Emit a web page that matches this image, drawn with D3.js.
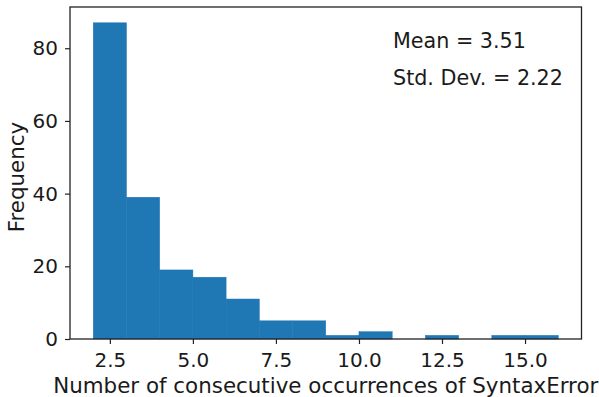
<!DOCTYPE html>
<html><head><meta charset="utf-8">
<script src="https://cdn.jsdelivr.net/npm/d3@7"></script>
<style>
body{margin:0;background:#fff;}
svg{display:block;}
text{font-family:"DejaVu Sans",sans-serif;fill:#1a1a1a;}
</style></head>
<body><svg id="c" width="599" height="397"></svg>
<script>
const binEdges = [2,3,4,5,6,7,8,9,10,11,12,13,14,15,16];
const counts = [87,39,19,17,11,5,5,1,2,0,1,0,1,1];
const xTicks = [2.5,5.0,7.5,10.0,12.5,15.0];
const yTicks = [0,20,40,60,80];
const xLabel = "Number of consecutive occurrences of SyntaxError";
const yLabel = "Frequency";
const statsText = ["Mean = 3.51","Std. Dev. = 2.22"];

const svg = d3.select("#c");
const L=70, R=581.5, T=7, B=339;
const x = d3.scaleLinear().domain([1.3,16.7]).range([L,R]);
const y = d3.scaleLinear().domain([0,91.35]).range([B,T]);

const bins = counts.map((c,i)=>({x0:binEdges[i],x1:binEdges[i+1],c}));
svg.append("g").selectAll("rect").data(bins.filter(d=>d.c>0)).join("rect")
  .attr("x",d=>x(d.x0)).attr("width",d=>x(d.x1)-x(d.x0))
  .attr("y",d=>y(d.c)).attr("height",d=>y(0)-y(d.c))
  .attr("fill","#1f77b4").attr("stroke","#1f77b4").attr("stroke-width",0.5);

const xa = svg.append("g").attr("transform",`translate(0,${B})`)
  .call(d3.axisBottom(x).tickValues(xTicks).tickFormat(d3.format(".1f")).tickSize(5).tickPadding(8.5));
const ya = svg.append("g").attr("transform",`translate(${L},0)`)
  .call(d3.axisLeft(y).tickValues(yTicks).tickFormat(d3.format("d")).tickSize(5).tickPadding(7));
[xa,ya].forEach(g=>{
  g.select(".domain").remove();
  g.selectAll("line").attr("stroke","#222").attr("stroke-width",1.2);
  g.selectAll("text").style("font-size","20px").attr("fill","#1a1a1a").style("font-family","DejaVu Sans");
});
svg.append("rect").attr("x",L).attr("y",T).attr("width",R-L).attr("height",B-T)
  .attr("fill","none").attr("stroke","#222").attr("stroke-width",1.3);

svg.append("text").attr("x",(L+R)/2).attr("y",393).attr("text-anchor","middle")
  .style("font-size","21.4px").text(xLabel);
svg.append("text").attr("transform",`translate(24,177) rotate(-90)`).attr("text-anchor","middle")
  .style("font-size","21.4px").text(yLabel);

svg.selectAll(".st").data(statsText).join("text").attr("class","st")
  .attr("x",393).attr("y",(d,i)=>48.3+i*37).style("font-size","20.7px").text(d=>d);
</script></body></html>
